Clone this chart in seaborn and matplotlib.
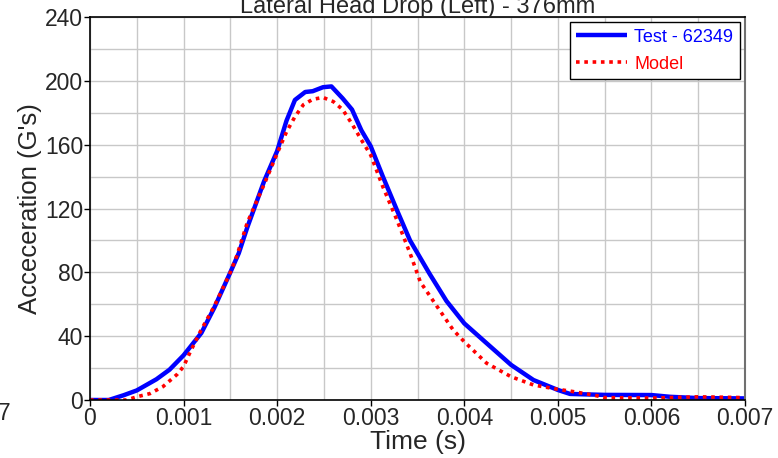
import matplotlib
matplotlib.use("Agg")
import matplotlib.pyplot as plt
import seaborn as sns
import pandas as pd
from matplotlib.ticker import MultipleLocator

test_t = [0.0, 0.0002, 0.00036, 0.0005, 0.00071, 0.00085, 0.001, 0.00119, 0.00133, 0.0015,
          0.00159, 0.00168, 0.00186, 0.002, 0.0021, 0.00219, 0.0023, 0.00238, 0.00249, 0.00258,
          0.0027, 0.0028, 0.0029, 0.003, 0.00313, 0.00328, 0.00342, 0.0035, 0.00363, 0.00381,
          0.004, 0.00424, 0.0045, 0.00474, 0.005, 0.00513, 0.0055, 0.006, 0.0062, 0.0065, 0.007]
test_g = [0.0, 0.0, 3.0, 6.0, 13.0, 19.0, 28.0, 42.0, 58.0, 80.0,
          92.0, 108.0, 137.0, 156.0, 175.0, 188.0, 193.0, 193.5, 196.0, 196.5,
          189.0, 182.0, 169.0, 159.0, 140.0, 119.0, 100.0, 92.0, 79.0, 62.0,
          48.0, 35.5, 22.0, 12.5, 6.3, 3.8, 3.2, 3.1, 2.0, 1.2, 1.0]

model_t = [0.0, 0.00039, 0.0005, 0.00064, 0.00078, 0.00093, 0.001, 0.00107, 0.00118, 0.00133,
           0.0015, 0.00157, 0.00168, 0.00186, 0.002, 0.0021, 0.00219, 0.00228, 0.00238, 0.00249,
           0.0026, 0.0027, 0.0028, 0.0029, 0.003, 0.00313, 0.00328, 0.00342, 0.00353, 0.00371,
           0.00388, 0.004, 0.00424, 0.0045, 0.00474, 0.005, 0.00516, 0.00538, 0.0055, 0.006,
           0.0065, 0.007]
model_g = [0.0, 0.0, 2.0, 4.0, 8.4, 16.0, 21.0, 30.0, 43.0, 59.0,
           80.0, 90.5, 111.0, 135.0, 154.5, 168.0, 177.5, 185.0, 188.4, 189.6,
           187.0, 182.0, 173.0, 163.0, 153.5, 133.6, 112.8, 92.0, 74.0, 58.5,
           44.0, 36.5, 23.0, 14.6, 9.4, 6.7, 5.3, 3.1, 1.5, 1.2,
           2.0, 1.5]

series_names = ["Test - 62349", "Model"]
title = "Lateral Head Drop (Left) - 376mm"
x_label = "Time (s)"
y_label = "Acceceration (G's)"
x_ticks = [0, 0.001, 0.002, 0.003, 0.004, 0.005, 0.006, 0.007]
x_ticklabels = ["0", "0.001", "0.002", "0.003", "0.004", "0.005", "0.006", "0.007"]
y_ticks = [0, 40, 80, 120, 160, 200, 240]

df_test = pd.DataFrame({"t": test_t, "g": test_g})
df_model = pd.DataFrame({"t": model_t, "g": model_g})

sns.set_style("white")
plt.rcParams["font.family"] = ["Liberation Sans", "DejaVu Sans"]

fig = plt.figure(figsize=(7.78, 4.58), dpi=100)
ax = fig.add_axes([90 / 778, 58 / 458, 655 / 778, 383 / 458])

sns.lineplot(data=df_test, x="t", y="g", ax=ax, color="#0000ff", linewidth=3.2,
             label=series_names[0], solid_capstyle="butt")
sns.lineplot(data=df_model, x="t", y="g", ax=ax, color="#ff0000", linewidth=2.6,
             linestyle=(0, (1.0, 1.3)), label=series_names[1])

ax.set_xlim(0, 0.007)
ax.set_ylim(0, 240)
ax.set_xticks(x_ticks)
ax.set_xticklabels(x_ticklabels)
ax.set_yticks(y_ticks)
ax.xaxis.set_minor_locator(MultipleLocator(0.0005))
ax.yaxis.set_minor_locator(MultipleLocator(20))
ax.grid(True, which="both", color="#c8c8c8", linewidth=1.0)
ax.set_axisbelow(True)
ax.tick_params(axis="both", which="major", labelsize=16.5, length=4, width=1,
               direction="out", color="black", pad=1, bottom=True, left=True)
ax.tick_params(axis="both", which="minor", length=0)

for side in ["left", "bottom", "top"]:
    ax.spines[side].set_color("black")
    ax.spines[side].set_linewidth(1.2)
ax.spines["right"].set_color("#707070")
ax.spines["right"].set_linewidth(1.5)

ax.set_xlabel(x_label, fontsize=19, labelpad=0)
ax.set_ylabel(y_label, fontsize=18.5, labelpad=2)
ax.set_title(title, fontsize=17, pad=3)

leg = ax.legend(loc="upper right", fontsize=13, frameon=True, fancybox=False,
                edgecolor="black", framealpha=1, borderaxespad=0.3,
                handlelength=2.8, handletextpad=0.4, labelspacing=0.55,
                borderpad=0.35)
leg.get_frame().set_linewidth(1.0)
for txt, col in zip(leg.get_texts(), ["#0000ff", "#ff0000"]):
    txt.set_color(col)

fig.text(-0.003, (458 - 414) / 458, "7", fontsize=16.5, ha="left", va="center")

fig.savefig("out.png", dpi=100)
